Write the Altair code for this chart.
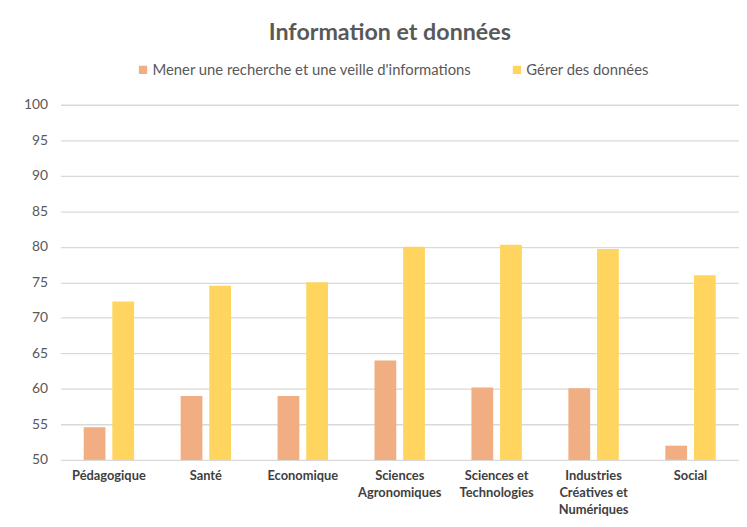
import altair as alt
import pandas as pd

categories = ["Pédagogique", "Santé", "Economique", "Sciences|Agronomiques",
              "Sciences et|Technologies", "Industries|Créatives et|Numériques", "Social"]
series = ["Mener une recherche et une veille d'informations", "Gérer des données"]
recherche = [54.6, 59.0, 59.0, 64.0, 60.2, 60.1, 52.0]
donnees = [72.3, 74.5, 75.0, 80.0, 80.3, 79.7, 76.0]
colors = ["#F0AE82", "#FFD560"]
y_ticks = [50, 55, 60, 65, 70, 75, 80, 85, 90, 95, 100]
y_min, y_max = 50, 100

rows = []
for c, a, b in zip(categories, recherche, donnees):
    rows.append({"cat": c, "serie": series[0], "value": a})
    rows.append({"cat": c, "serie": series[1], "value": b})
df = pd.DataFrame(rows)

FONT = "Lato"

chart = alt.Chart(df).mark_bar().encode(
    x=alt.X("cat:N", sort=categories, title=None,
            scale=alt.Scale(paddingInner=0.48, paddingOuter=0.24),
            axis=alt.Axis(labelAngle=0, labelExpr="split(datum.label, '|')",
                          labelFontWeight="bold", labelFontSize=13, labelColor="#404040",
                          labelPadding=10, labelLineHeight=17, ticks=False, domain=False,
                          labelFont=FONT)),
    xOffset=alt.XOffset("serie:N", sort=series,
                        scale=alt.Scale(paddingInner=0.24, paddingOuter=0)),
    y=alt.Y("value:Q", title=None,
            scale=alt.Scale(domain=[y_min, y_max], nice=False, zero=False),
            axis=alt.Axis(values=y_ticks, gridColor="#D9D9D9", gridWidth=1.3, domain=False,
                          ticks=False, labelPadding=13, labelFontSize=14,
                          labelColor="#595959", labelFont=FONT)),
    y2=alt.datum(y_min),
    color=alt.Color("serie:N", sort=series,
                    scale=alt.Scale(domain=series, range=colors),
                    legend=alt.Legend(title=None, orient="none", direction="horizontal",
                                      legendX=76, legendY=-43, symbolType="square",
                                      symbolSize=70, labelFontSize=15, labelColor="#595959",
                                      labelFont=FONT, columnPadding=38, labelOffset=2,
                                      labelLimit=0, symbolStrokeWidth=0)),
).properties(
    width=686, height=359,
    title=alt.TitleParams("Information et données", fontSize=23.5, fontWeight="bold",
                          color="#595959", font=FONT, anchor="middle", offset=18, dx=-10),
    padding={"left": 15, "top": 10, "right": 0, "bottom": 5},
    background="white",
).configure_view(stroke=None)

chart.save("out.html", embed_options={"renderer": "svg", "actions": False})
